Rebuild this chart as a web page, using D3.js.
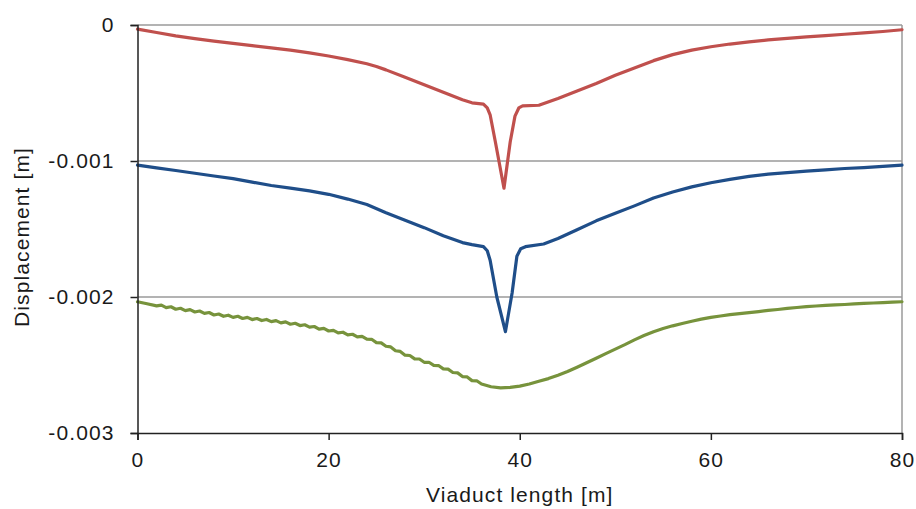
<!DOCTYPE html>
<html>
<head>
<meta charset="utf-8">
<script src="https://cdn.jsdelivr.net/npm/d3@7/dist/d3.min.js"></script>
<style>
  html, body { margin: 0; padding: 0; background: #fff; }
  svg { display: block; }
  text { font-family: "Liberation Sans", Arial, sans-serif; fill: #1a1a1a; letter-spacing: 1.1px; }
</style>
</head>
<body>
<svg id="chart" width="916" height="509"></svg>
<script>
// Displacement along the viaduct, [x (m), displacement (mm → converted to m below)]
const redSeries = [
  [0, -0.03], [2, -0.055], [4, -0.08], [6, -0.1], [8, -0.118], [10, -0.135],
  [12, -0.152], [14, -0.168], [16, -0.185], [18, -0.205], [20, -0.228],
  [22, -0.255], [24, -0.285], [25, -0.305], [26, -0.33], [28, -0.385],
  [30, -0.44], [32, -0.495], [34, -0.55], [35, -0.572], [36.2, -0.582],
  [36.6, -0.61], [36.9, -0.66], [37.45, -0.86], [38.35, -1.2], [39.0, -0.86],
  [39.5, -0.67], [39.9, -0.61], [40.3, -0.595], [42, -0.59], [44, -0.54],
  [46, -0.485], [48, -0.43], [50, -0.37], [52, -0.316], [54, -0.262],
  [56, -0.218], [58, -0.185], [60, -0.16], [62, -0.14], [64, -0.124],
  [66, -0.11], [68, -0.098], [70, -0.088], [72, -0.078], [74, -0.068],
  [76, -0.058], [78, -0.048], [80, -0.035]
];

const blueSeries = [
  [0, -1.03], [2, -1.05], [4, -1.07], [6, -1.09], [8, -1.11], [10, -1.13],
  [12, -1.155], [14, -1.18], [16, -1.2], [18, -1.22], [20, -1.245],
  [22, -1.28], [24, -1.32], [26, -1.38], [28, -1.435], [30, -1.49],
  [32, -1.55], [34, -1.6], [35, -1.615], [36.2, -1.63], [36.6, -1.66],
  [36.9, -1.73], [37.6, -2.0], [38.5, -2.255], [39.2, -1.97], [39.7, -1.7],
  [40.1, -1.645], [40.6, -1.63], [42.5, -1.61], [44, -1.57], [46, -1.505],
  [48, -1.44], [50, -1.385], [52, -1.33], [54, -1.272], [56, -1.228],
  [58, -1.19], [60, -1.16], [62, -1.135], [64, -1.113], [66, -1.097],
  [68, -1.085], [70, -1.075], [72, -1.065], [74, -1.055], [76, -1.048],
  [78, -1.04], [80, -1.03]
];

const greenSeries = [
  [0, -2.035], [1, -2.05], [2, -2.065], [2.5, -2.06], [3, -2.078], [3.5, -2.072],
  [4, -2.09], [4.5, -2.083], [5, -2.1], [5.5, -2.093], [6, -2.11], [6.5, -2.103],
  [7, -2.12], [7.5, -2.114], [8, -2.132], [8.5, -2.125], [9, -2.142], [9.5, -2.134],
  [10, -2.15], [10.5, -2.142], [11, -2.158], [11.5, -2.15], [12, -2.166], [12.5, -2.158],
  [13, -2.173], [13.5, -2.165], [14, -2.181], [14.5, -2.174], [15, -2.19], [15.5, -2.183],
  [16, -2.2], [16.5, -2.193], [17, -2.21], [17.5, -2.204], [18, -2.222], [18.5, -2.217],
  [19, -2.236], [19.5, -2.231], [20, -2.25], [20.5, -2.245], [21, -2.264], [21.5, -2.259],
  [22, -2.278], [22.5, -2.274], [23, -2.293], [23.5, -2.29], [24, -2.31], [24.5, -2.311],
  [25, -2.335], [25.5, -2.337], [26, -2.362], [26.5, -2.367], [27, -2.395], [27.5, -2.4],
  [28, -2.428], [28.5, -2.43], [29, -2.455], [29.5, -2.456], [30, -2.48], [30.5, -2.48],
  [31, -2.503], [31.5, -2.504], [32, -2.528], [32.5, -2.53], [33, -2.555], [33.5, -2.558],
  [34, -2.585], [34.5, -2.588], [35, -2.615], [35.5, -2.616], [36, -2.64], [37, -2.66],
  [38, -2.668], [39, -2.665], [40, -2.655], [41, -2.64], [42, -2.62], [43, -2.6],
  [44, -2.575], [45, -2.548], [46, -2.516], [47, -2.483], [48, -2.45], [49, -2.416],
  [50, -2.383], [51, -2.35], [52, -2.315], [53, -2.283], [54, -2.255], [55, -2.232],
  [56, -2.212], [57, -2.195], [58, -2.178], [59, -2.163], [60, -2.15], [61, -2.14],
  [62, -2.13], [63, -2.122], [64, -2.115], [65, -2.107], [66, -2.099], [67, -2.092],
  [68, -2.084], [69, -2.077], [70, -2.071], [71, -2.066], [72, -2.062], [73, -2.058],
  [74, -2.055], [75, -2.051], [76, -2.047], [77, -2.044], [78, -2.041], [79, -2.038],
  [80, -2.035]
];

const xTicks = [0, 20, 40, 60, 80];
const yTicks = [0, -0.001, -0.002, -0.003];
const yTickLabels = ["0", "-0.001", "-0.002", "-0.003"];

const series = [
  { data: redSeries, color: "#C0504D" },
  { data: blueSeries, color: "#1F4E89" },
  { data: greenSeries, color: "#77933C" }
];

const svg = d3.select("#chart");
const plotLeft = 137.5, plotTop = 25, plotRight = 902, plotBottom = 433;

const x = d3.scaleLinear().domain([0, 80]).range([plotLeft, plotRight]);
const y = d3.scaleLinear().domain([-0.003, 0]).range([plotBottom, plotTop]);

// horizontal gridlines
svg.append("g")
  .selectAll("line")
  .data(yTicks.filter(d => d !== -0.003))
  .join("line")
  .attr("x1", plotLeft).attr("x2", plotRight)
  .attr("y1", d => y(d)).attr("y2", d => y(d))
  .attr("stroke", "#9a9a9a").attr("stroke-width", 1.5);

// right border of the plot area
svg.append("line")
  .attr("x1", plotRight).attr("x2", plotRight)
  .attr("y1", plotTop).attr("y2", plotBottom)
  .attr("stroke", "#9a9a9a").attr("stroke-width", 1.5);

// curves
const line = d3.line()
  .x(d => x(d[0]))
  .y(d => y(d[1] / 1000));

svg.append("g")
  .selectAll("path")
  .data(series)
  .join("path")
  .attr("d", d => line(d.data))
  .attr("fill", "none")
  .attr("stroke", d => d.color)
  .attr("stroke-width", 3.2)
  .attr("stroke-linejoin", "round")
  .attr("stroke-linecap", "round");

// axes
const yAxis = d3.axisLeft(y)
  .tickValues(yTicks)
  .tickFormat((d, i) => yTickLabels[i])
  .tickSize(7)
  .tickPadding(16);

const xAxis = d3.axisBottom(x)
  .tickValues(xTicks)
  .tickFormat(d3.format("d"))
  .tickSize(7)
  .tickPadding(12);

const gy = svg.append("g").attr("transform", `translate(${plotLeft},0)`).call(yAxis);
const gx = svg.append("g").attr("transform", `translate(0,${plotBottom})`).call(xAxis);

[gx, gy].forEach(g => {
  g.select(".domain").attr("stroke", "#222").attr("stroke-width", 1.5);
  g.selectAll(".tick line").attr("stroke", "#222").attr("stroke-width", 1.5);
  g.selectAll(".tick text")
    .attr("fill", "#1a1a1a")
    .style("font-size", "21px")
    .style("font-family", "'Liberation Sans', Arial, sans-serif");
});

// axis titles
svg.append("text")
  .attr("x", (plotLeft + plotRight) / 2)
  .attr("y", 502)
  .attr("text-anchor", "middle")
  .style("font-size", "21px")
  .text("Viaduct length [m]");

svg.append("text")
  .attr("transform", `translate(29,237) rotate(-90)`)
  .attr("text-anchor", "middle")
  .style("font-size", "21px")
  .text("Displacement [m]");
</script>
</body>
</html>
